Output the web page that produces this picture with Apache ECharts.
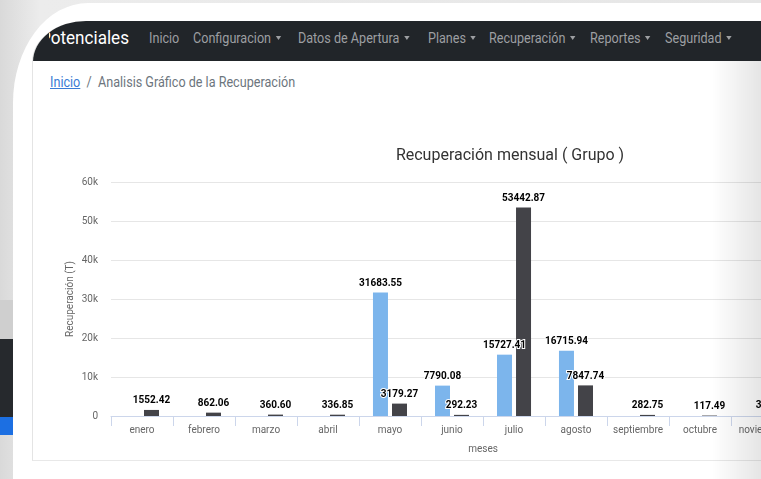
<!DOCTYPE html>
<html>
<head>
<meta charset="utf-8">
<script src="https://cdn.jsdelivr.net/npm/echarts@6/dist/echarts.min.js"></script>
<style>
  html, body { margin: 0; padding: 0; }
  body {
    width: 761px; height: 479px; overflow: hidden; position: relative;
    background: linear-gradient(to right, #d9d9d9, #ececec 40px, #e6e6e6);
    font-family: Roboto, "Noto Sans", sans-serif;
  }
  .band-dark { position: absolute; left: 0; top: 339px; width: 13px; height: 78px; background: #26292d; }
  .band-blue { position: absolute; left: 0; top: 417px; width: 13px; height: 18px; background: #1c6fe2; }
  .band-grey { position: absolute; left: 0; top: 300px; width: 13px; height: 39px; background: #cfcfcf; }
  .frame {
    position: absolute; left: 13px; top: 3px; width: 800px; height: 520px;
    background: #fff; border-top-left-radius: 75px 100px;
  }
  .inner {
    position: absolute; left: 32px; top: 21px; width: 800px; height: 439px;
    border-top-left-radius: 54px 41px; overflow: hidden; background: #fff;
    border-left: 1px solid #e4e4e4; border-bottom: 1px solid #e8e8e8;
  }
  .nav { position: absolute; left: 0; top: 0; width: 800px; height: 40px; background: #212529; }
  .nav span { position: absolute; top: 9px; white-space: nowrap; font-size: 14px; color: #9d9fa2; transform: scaleX(0.9); transform-origin: left; }
  .nav .brand { top: 5px; font-size: 19px; color: #fff; clip-path: inset(0 0 0 10px); }
  .caret { display: inline-block; margin-left: 5px; vertical-align: 3px;
    border-top: 4px solid #9d9fa2; border-left: 3.5px solid transparent; border-right: 3.5px solid transparent; }
  .crumb { position: absolute; left: 17px; top: 53px; font-size: 14px; color: #6c757d; white-space: nowrap; transform: scaleX(0.9); transform-origin: left; }
  .crumb a { color: #3a7bd5; text-decoration: underline; }
  #chart { position: absolute; left: 0; top: 109px; width: 954px; height: 330px; }
  .shade { position: absolute; left: 712px; top: 61px; width: 49px; height: 418px;
    background: linear-gradient(to right, rgba(0,0,0,0), rgba(0,0,0,0.1)); }
</style>
</head>
<body>
<div class="band-grey"></div>
<div class="band-dark"></div>
<div class="band-blue"></div>
<div class="frame"></div>
<div class="inner">
  <div class="nav">
    <span class="brand" style="left:7px">Potenciales</span>
    <span style="left:116px">Inicio</span>
    <span style="left:160px">Configuracion<i class="caret"></i></span>
    <span style="left:265px">Datos de Apertura<i class="caret"></i></span>
    <span style="left:395px">Planes<i class="caret"></i></span>
    <span style="left:456px">Recuperación<i class="caret"></i></span>
    <span style="left:557px">Reportes<i class="caret"></i></span>
    <span style="left:632px">Seguridad<i class="caret"></i></span>
  </div>
  <div class="crumb"><a>Inicio</a>&nbsp; / &nbsp;Analisis Gráfico de la Recuperación</div>
  <div id="chart"></div>
</div>
<div class="shade"></div>
<script>
// datos del gráfico
const meses = ['enero', 'febrero', 'marzo', 'abril', 'mayo', 'junio', 'julio',
  'agosto', 'septiembre', 'octubre', 'noviembre', 'diciembre'];
const serieAzul = [null, null, null, null, 31683.55, 7790.08, 15727.41, 16715.94, null, null, null, null];
const serieGris = [1552.42, 862.06, 360.60, 336.85, 3179.27, 292.23, 53442.87, 7847.74, 282.75, 117.49, 325.18, null];

const chart = echarts.init(document.getElementById('chart'));

const etiqueta = {
  show: true,
  position: 'top',
  distance: 4,
  fontFamily: 'Roboto',
  fontSize: 10,
  fontWeight: 'bold',
  color: '#000',
  textBorderColor: '#fff',
  textBorderWidth: 2,
  formatter: (p) => (p.value == null ? '' : p.value.toFixed(2))
};

chart.setOption({
  animation: false,
  textStyle: { fontFamily: 'Roboto' },
  title: {
    text: 'Recuperación mensual ( Grupo )',
    left: 'center',
    top: 13,
    textStyle: { fontSize: 16, fontWeight: 'normal', color: '#333' }
  },
  grid: { left: 78, top: 52, width: 744, height: 234 },
  xAxis: {
    type: 'category',
    data: meses,
    name: 'meses',
    nameLocation: 'middle',
    nameGap: 28,
    nameMoveOverlap: false,
    nameTextStyle: { fontSize: 10, color: '#666' },
    axisLine: { lineStyle: { color: '#ccd6eb' } },
    axisTick: { show: true, length: 10, lineStyle: { color: '#ccd6eb' } },
    axisLabel: { fontSize: 10, color: '#666', margin: 9, interval: 0 }
  },
  yAxis: {
    type: 'value',
    min: 0,
    max: 60000,
    interval: 10000,
    name: 'Recuperación (T)',
    nameLocation: 'middle',
    nameRotate: 90,
    nameGap: 36,
    nameMoveOverlap: false,
    nameTextStyle: { fontSize: 10, color: '#666' },
    axisLabel: {
      fontSize: 10, color: '#666', margin: 13,
      formatter: (v) => (v === 0 ? '0' : v / 1000 + 'k')
    },
    splitLine: { lineStyle: { color: '#e6e6e6' } }
  },
  series: [
    {
      type: 'bar',
      data: serieAzul,
      barWidth: 15,
      barGap: '27%',
      itemStyle: { color: '#7cb5ec' },
      label: etiqueta
    },
    {
      type: 'bar',
      data: serieGris,
      barWidth: 15,
      itemStyle: { color: '#434348' },
      label: etiqueta
    }
  ]
});
</script>
</body>
</html>
